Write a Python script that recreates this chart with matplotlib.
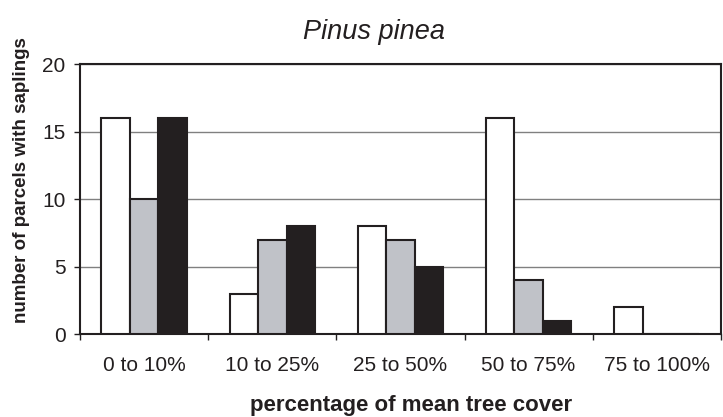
import numpy as np
import matplotlib
matplotlib.use('Agg')
import matplotlib.pyplot as plt

plt.rcParams['font.family'] = ['Liberation Sans', 'DejaVu Sans']

# Data
categories = ['0 to 10%', '10 to 25%', '25 to 50%', '50 to 75%', '75 to 100%']
series_white = [16, 3, 8, 16, 2]
series_gray = [10, 7, 7, 4, 0]
series_black = [16, 8, 5, 1, 0]

ink = '#231f20'

fig = plt.figure(figsize=(7.23, 4.17), dpi=100)
ax = fig.add_axes([0.1107, 0.199, 0.8863, 0.6475])

x = np.arange(len(categories))
width = 0.222
ax.bar(x - width, series_white, width, color='white', edgecolor=ink,
       linewidth=1.5, zorder=3)
ax.bar(x, series_gray, width, color='#c0c2c8', edgecolor=ink,
       linewidth=1.5, zorder=3)
ax.bar(x + width, series_black, width, color=ink, edgecolor=ink,
       linewidth=1.5, zorder=3)

ax.set_xlim(-0.5, len(categories) - 0.5)
ax.set_ylim(0, 20)
ax.set_yticks([0, 5, 10, 15, 20])
ax.yaxis.grid(True, color='#808080', linewidth=1.0, zorder=0)
ax.set_axisbelow(True)

ax.set_xticks(x)
ax.set_xticklabels(categories, fontsize=15, color=ink)
ax.tick_params(axis='x', length=0, pad=16)
ax.set_xticks(np.arange(len(categories) + 1) - 0.5, minor=True)
ax.tick_params(axis='x', which='minor', length=4.5, width=1.0,
               direction='out', color=ink)
ax.tick_params(axis='y', labelsize=15, length=4.5, width=1.0, pad=6,
               color=ink, labelcolor=ink)

for s in ax.spines.values():
    s.set_linewidth(1.5)
    s.set_color(ink)

fig.text(374 / 723, 1 - 32 / 417, 'Pinus pinea', fontsize=19.5,
         style='italic', ha='center', va='center', color=ink)
fig.text(411 / 723, 1 - 405 / 417, 'percentage of mean tree cover',
         fontsize=16, fontweight='bold', ha='center', va='center', color=ink)
fig.text(22 / 723, 1 - 180 / 417, 'number of parcels with saplings',
         fontsize=13.5, fontweight='bold', rotation=90, ha='center',
         va='center', color=ink)

fig.savefig('out.png', dpi=100)
